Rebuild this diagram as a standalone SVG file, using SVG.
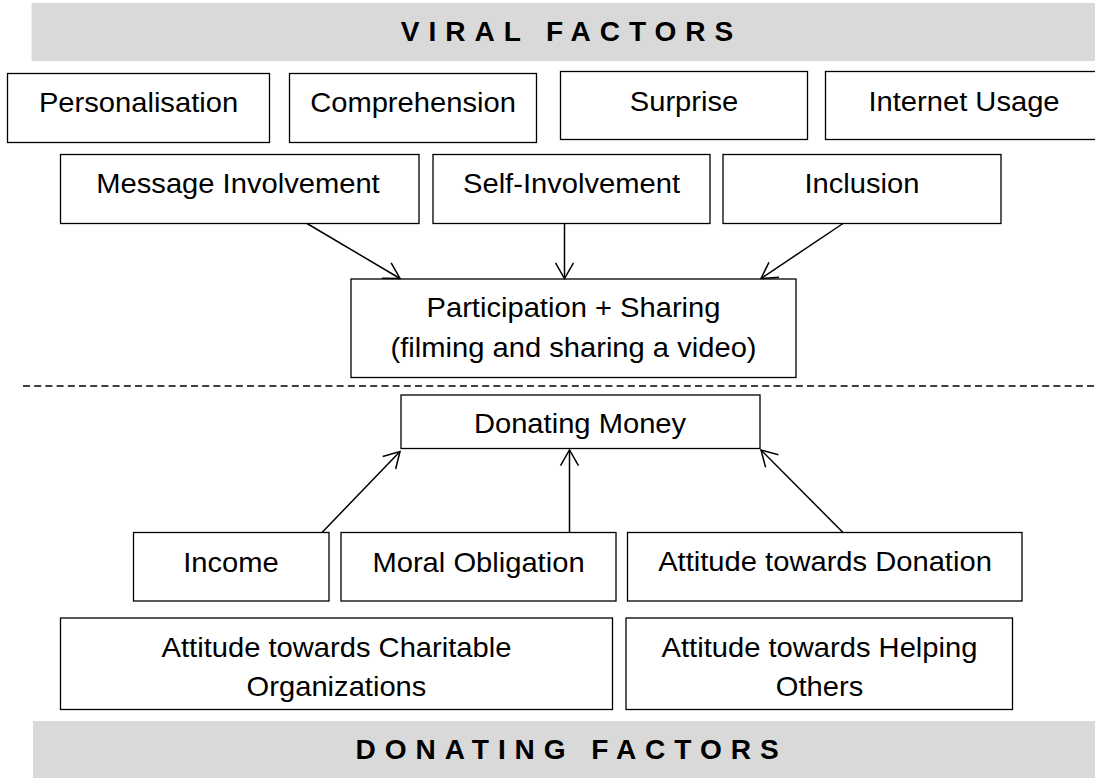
<svg xmlns="http://www.w3.org/2000/svg" width="1095" height="778" viewBox="0 0 1095 778">
  <style>
    .box { fill: #ffffff; stroke: #000000; stroke-width: 1.3; }
    .band { fill: #d9d9d9; stroke: none; }
    .lbl { font-family: "Liberation Sans", Arial, sans-serif; font-size: 27.5px; fill: #000000; text-anchor: middle; }
    .head { font-family: "Liberation Sans", Arial, sans-serif; font-size: 27px; font-weight: bold; letter-spacing: 8.6px; fill: #000000; text-anchor: middle; }
    .link { stroke: #000000; stroke-width: 1.5; fill: none; marker-end: url(#open); }
    .divider { stroke: #000000; stroke-width: 1.3; stroke-dasharray: 7 4.2; }
  </style>
  <defs>
    <marker id="open" markerUnits="userSpaceOnUse" markerWidth="22" markerHeight="22" viewBox="-2 -2 20 22" refX="15.6" refY="9" orient="auto">
      <path d="M0,0 L15.6,9 L0,18" fill="none" stroke="#000000" stroke-width="1.5"/>
    </marker>
  </defs>

  <rect width="1095" height="778" fill="#ffffff"/>

  <!-- section headers -->
  <g id="viral-factors">
    <rect class="band" x="31.5" y="3" width="1064" height="58"/>
    <text class="head" transform="translate(571.5,41) scale(1.04,1)">VIRAL FACTORS</text>
  </g>
  <g id="donating-factors">
    <rect class="band" x="33" y="721" width="1062" height="57"/>
    <text class="head" transform="translate(571.5,759) scale(1.04,1)">DONATING FACTORS</text>
  </g>

  <!-- viral factor nodes -->
  <g id="personalisation">
    <rect class="box" x="7.5" y="73.5" width="262" height="69"/>
    <text class="lbl" transform="translate(138.5,112) scale(1.06,1)">Personalisation</text>
  </g>
  <g id="comprehension">
    <rect class="box" x="289.5" y="73.5" width="247" height="69"/>
    <text class="lbl" transform="translate(413,112) scale(1.06,1)">Comprehension</text>
  </g>
  <g id="surprise">
    <rect class="box" x="560.5" y="71.5" width="247" height="68"/>
    <text class="lbl" transform="translate(684,110.5) scale(1.06,1)">Surprise</text>
  </g>
  <g id="internet-usage">
    <rect class="box" x="825.5" y="71.5" width="290" height="68"/>
    <text class="lbl" transform="translate(964,110.5) scale(1.06,1)">Internet Usage</text>
  </g>
  <g id="message-involvement">
    <rect class="box" x="60.5" y="154.5" width="358.5" height="69"/>
    <text class="lbl" transform="translate(238,193) scale(1.06,1)">Message Involvement</text>
  </g>
  <g id="self-involvement">
    <rect class="box" x="433" y="154.5" width="277" height="69"/>
    <text class="lbl" transform="translate(571.5,193) scale(1.06,1)">Self-Involvement</text>
  </g>
  <g id="inclusion">
    <rect class="box" x="723" y="154.5" width="278" height="69"/>
    <text class="lbl" transform="translate(862,193) scale(1.06,1)">Inclusion</text>
  </g>
  <g id="participation-sharing">
    <rect class="box" x="351" y="279" width="445" height="98.5"/>
    <text class="lbl" transform="translate(573.5,317) scale(1.06,1)">Participation + Sharing</text>
    <text class="lbl" transform="translate(573.5,357) scale(1.06,1)">(filming and sharing a video)</text>
  </g>

  <!-- boundary between the two factor groups -->
  <line class="divider" x1="23" y1="386" x2="1095" y2="386"/>

  <!-- donating factor nodes -->
  <g id="donating-money">
    <rect class="box" x="401" y="395" width="359" height="53.5"/>
    <text class="lbl" transform="translate(580,433) scale(1.06,1)">Donating Money</text>
  </g>
  <g id="income">
    <rect class="box" x="133.5" y="532.5" width="195.5" height="68.5"/>
    <text class="lbl" transform="translate(231,572) scale(1.06,1)">Income</text>
  </g>
  <g id="moral-obligation">
    <rect class="box" x="341" y="532.5" width="275" height="68.5"/>
    <text class="lbl" transform="translate(478.5,572) scale(1.06,1)">Moral Obligation</text>
  </g>
  <g id="attitude-donation">
    <rect class="box" x="627.5" y="532.5" width="394.5" height="68.5"/>
    <text class="lbl" transform="translate(825,571) scale(1.06,1)">Attitude towards Donation</text>
  </g>
  <g id="attitude-charitable">
    <rect class="box" x="60.5" y="618" width="552" height="91.5"/>
    <text class="lbl" transform="translate(336.5,657) scale(1.06,1)">Attitude towards Charitable</text>
    <text class="lbl" transform="translate(336.5,695.5) scale(1.06,1)">Organizations</text>
  </g>
  <g id="attitude-helping">
    <rect class="box" x="626" y="618" width="386.5" height="91.5"/>
    <text class="lbl" transform="translate(819.5,657) scale(1.06,1)">Attitude towards Helping</text>
    <text class="lbl" transform="translate(819.5,695.5) scale(1.06,1)">Others</text>
  </g>

  <!-- connectors -->
  <g id="connectors">
    <line class="link" x1="307" y1="223.5" x2="400" y2="278.5"/>
    <line class="link" x1="564.5" y1="223.5" x2="564.5" y2="278.5"/>
    <line class="link" x1="843" y1="223.5" x2="761" y2="278.5"/>
    <line class="link" x1="322" y1="532.5" x2="400" y2="451.5"/>
    <line class="link" x1="569.5" y1="532.5" x2="569.5" y2="450"/>
    <line class="link" x1="843" y1="532.5" x2="761" y2="450"/>
  </g>
</svg>
